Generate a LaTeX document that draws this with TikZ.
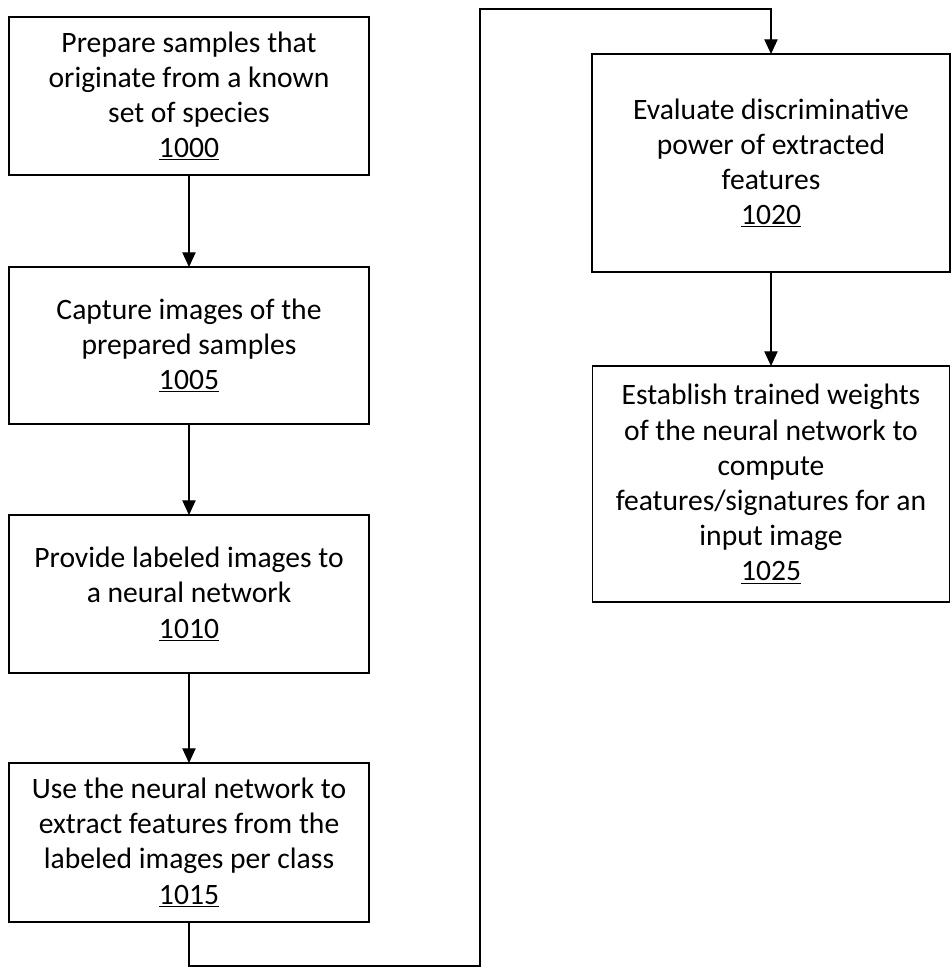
\documentclass[tikz,border=0pt]{standalone}
\usepackage{fontspec}
\setmainfont{Carlito}
\usetikzlibrary{arrows.meta}
\tikzset{
  stepbox/.style={draw=black, line width=1.1pt, inner sep=0pt, outer sep=0pt,
    align=center, font=\fontsize{22.2pt}{26.4pt}\selectfont, text=black},
  flow/.style={draw=black, line width=0.8pt, -{Triangle[length=11pt,width=10pt]}},
}
\begin{document}
\begin{tikzpicture}[x=0.75pt,y=-0.75pt]
\useasboundingbox (0,0) rectangle (951,967);
\node[stepbox, minimum width=270pt, minimum height=118.5pt] (b1000) at (189,96)
  {Prepare samples that\\originate from a known\\set of species\\\underline{1000}};
\node[stepbox, minimum width=270pt, minimum height=117.75pt] (b1005) at (189,345.5)
  {Capture images of the\\prepared samples\\\underline{1005}};
\node[stepbox, minimum width=270pt, minimum height=118.5pt] (b1010) at (189,594)
  {Provide labeled images to\\a neural network\\\underline{1010}};
\node[stepbox, minimum width=270pt, minimum height=119.25pt] (b1015) at (189,842.5)
  {Use the neural network to\\extract features from the\\labeled images per class\\\underline{1015}};
\node[stepbox, minimum width=268.5pt, minimum height=163.5pt] (b1020) at (771,163)
  {Evaluate discriminative\\power of extracted\\features\\\underline{1020}};
\node[stepbox, minimum width=267.75pt, minimum height=177pt] (b1025) at (771,484)
  {Establish trained weights\\of the neural network to\\compute\\features/signatures for an\\input image\\\underline{1025}};
\coordinate (k1) at (480,966);
\coordinate (k2) at (480,9);
\draw[flow] (b1000) -- (b1005);
\draw[flow] (b1005) -- (b1010);
\draw[flow] (b1010) -- (b1015);
\draw[flow] (b1015.south) |- (k1) -- (k2) -| (b1020.north);
\draw[flow] (b1020) -- (b1025);
\end{tikzpicture}
\end{document}
